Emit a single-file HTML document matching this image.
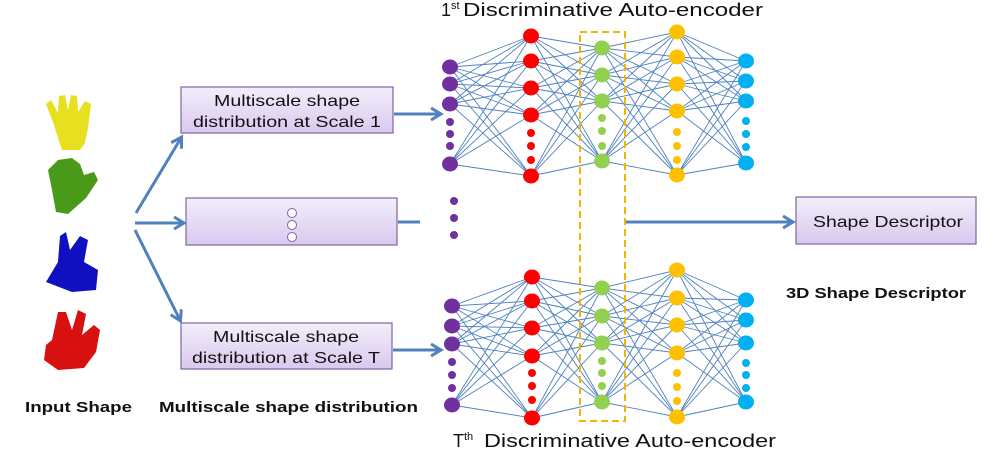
<!DOCTYPE html>
<html><head><meta charset="utf-8"><style>
html,body{margin:0;padding:0;background:#fff;}
svg text{font-family:"Liberation Sans",sans-serif;}
</style></head><body>
<svg width="1001" height="455" viewBox="0 0 1001 455" xmlns="http://www.w3.org/2000/svg">
<defs>
<linearGradient id="bg" x1="0" y1="0" x2="0" y2="1"><stop offset="0" stop-color="#f3eefa"/><stop offset="1" stop-color="#d9c9ee"/></linearGradient>
<marker id="ab" markerWidth="14" markerHeight="14" refX="10" refY="7" orient="auto" markerUnits="userSpaceOnUse"><path d="M1,1 L11,7 L1,13" fill="none" stroke="#4f81bd" stroke-width="3"/></marker>
</defs>
<g stroke="#4f81bd" stroke-width="0.9" fill="none">
<path d="M450 67L531 36M450 67L531 61M450 67L531 88M450 67L531 115M450 67L531 176M450 84L531 36M450 84L531 61M450 84L531 88M450 84L531 115M450 84L531 176M450 104L531 36M450 104L531 61M450 104L531 88M450 104L531 115M450 104L531 176M450 164L531 36M450 164L531 61M450 164L531 88M450 164L531 115M450 164L531 176"/>
<path d="M531 36L602 48M531 36L602 75M531 36L602 101M531 36L602 161M531 61L602 48M531 61L602 75M531 61L602 101M531 61L602 161M531 88L602 48M531 88L602 75M531 88L602 101M531 88L602 161M531 115L602 48M531 115L602 75M531 115L602 101M531 115L602 161M531 176L602 48M531 176L602 75M531 176L602 101M531 176L602 161"/>
<path d="M602 48L677 32M602 48L677 57M602 48L677 84M602 48L677 111M602 48L677 175M602 75L677 32M602 75L677 57M602 75L677 84M602 75L677 111M602 75L677 175M602 101L677 32M602 101L677 57M602 101L677 84M602 101L677 111M602 101L677 175M602 161L677 32M602 161L677 57M602 161L677 84M602 161L677 111M602 161L677 175"/>
<path d="M677 32L746 61M677 32L746 81M677 32L746 101M677 32L746 163M677 57L746 61M677 57L746 81M677 57L746 101M677 57L746 163M677 84L746 61M677 84L746 81M677 84L746 101M677 84L746 163M677 111L746 61M677 111L746 81M677 111L746 101M677 111L746 163M677 175L746 61M677 175L746 81M677 175L746 101M677 175L746 163"/>
<path d="M452 306L532 277M452 306L532 301M452 306L532 328M452 306L532 356M452 306L532 418M452 326L532 277M452 326L532 301M452 326L532 328M452 326L532 356M452 326L532 418M452 344L532 277M452 344L532 301M452 344L532 328M452 344L532 356M452 344L532 418M452 405L532 277M452 405L532 301M452 405L532 328M452 405L532 356M452 405L532 418"/>
<path d="M532 277L602 288M532 277L602 316M532 277L602 343M532 277L602 402M532 301L602 288M532 301L602 316M532 301L602 343M532 301L602 402M532 328L602 288M532 328L602 316M532 328L602 343M532 328L602 402M532 356L602 288M532 356L602 316M532 356L602 343M532 356L602 402M532 418L602 288M532 418L602 316M532 418L602 343M532 418L602 402"/>
<path d="M602 288L677 270M602 288L677 298M602 288L677 325M602 288L677 353M602 288L677 417M602 316L677 270M602 316L677 298M602 316L677 325M602 316L677 353M602 316L677 417M602 343L677 270M602 343L677 298M602 343L677 325M602 343L677 353M602 343L677 417M602 402L677 270M602 402L677 298M602 402L677 325M602 402L677 353M602 402L677 417"/>
<path d="M677 270L746 300M677 270L746 320M677 270L746 343M677 270L746 402M677 298L746 300M677 298L746 320M677 298L746 343M677 298L746 402M677 325L746 300M677 325L746 320M677 325L746 343M677 325L746 402M677 353L746 300M677 353L746 320M677 353L746 343M677 353L746 402M677 417L746 300M677 417L746 320M677 417L746 343M677 417L746 402"/>
</g>
<g fill="#7030a0"><ellipse cx="450" cy="67" rx="8" ry="7.5"/><ellipse cx="450" cy="84" rx="8" ry="7.5"/><ellipse cx="450" cy="104" rx="8" ry="7.5"/><circle cx="450" cy="122" r="4"/><circle cx="450" cy="134" r="4"/><circle cx="450" cy="146" r="4"/><ellipse cx="450" cy="164" rx="8" ry="7.5"/></g>
<g fill="#ff0000"><ellipse cx="531" cy="36" rx="8" ry="7.5"/><ellipse cx="531" cy="61" rx="8" ry="7.5"/><ellipse cx="531" cy="88" rx="8" ry="7.5"/><ellipse cx="531" cy="115" rx="8" ry="7.5"/><circle cx="531" cy="133" r="4"/><circle cx="531" cy="146" r="4"/><circle cx="531" cy="160" r="4"/><ellipse cx="531" cy="176" rx="8" ry="7.5"/></g>
<g fill="#92d050"><ellipse cx="602" cy="48" rx="8" ry="7.5"/><ellipse cx="602" cy="75" rx="8" ry="7.5"/><ellipse cx="602" cy="101" rx="8" ry="7.5"/><circle cx="602" cy="118" r="4"/><circle cx="602" cy="131" r="4"/><circle cx="602" cy="146" r="4"/><ellipse cx="602" cy="161" rx="8" ry="7.5"/></g>
<g fill="#ffc000"><ellipse cx="677" cy="32" rx="8" ry="7.5"/><ellipse cx="677" cy="57" rx="8" ry="7.5"/><ellipse cx="677" cy="84" rx="8" ry="7.5"/><ellipse cx="677" cy="111" rx="8" ry="7.5"/><circle cx="677" cy="132" r="4"/><circle cx="677" cy="146" r="4"/><circle cx="677" cy="160" r="4"/><ellipse cx="677" cy="175" rx="8" ry="7.5"/></g>
<g fill="#00b0f0"><ellipse cx="746" cy="61" rx="8" ry="7.5"/><ellipse cx="746" cy="81" rx="8" ry="7.5"/><ellipse cx="746" cy="101" rx="8" ry="7.5"/><circle cx="746" cy="121" r="4"/><circle cx="746" cy="134" r="4"/><circle cx="746" cy="147" r="4"/><ellipse cx="746" cy="163" rx="8" ry="7.5"/></g>
<g fill="#7030a0"><ellipse cx="452" cy="306" rx="8" ry="7.5"/><ellipse cx="452" cy="326" rx="8" ry="7.5"/><ellipse cx="452" cy="344" rx="8" ry="7.5"/><circle cx="452" cy="362" r="4"/><circle cx="452" cy="375" r="4"/><circle cx="452" cy="388" r="4"/><ellipse cx="452" cy="405" rx="8" ry="7.5"/></g>
<g fill="#ff0000"><ellipse cx="532" cy="277" rx="8" ry="7.5"/><ellipse cx="532" cy="301" rx="8" ry="7.5"/><ellipse cx="532" cy="328" rx="8" ry="7.5"/><ellipse cx="532" cy="356" rx="8" ry="7.5"/><circle cx="532" cy="373" r="4"/><circle cx="532" cy="386" r="4"/><circle cx="532" cy="400" r="4"/><ellipse cx="532" cy="418" rx="8" ry="7.5"/></g>
<g fill="#92d050"><ellipse cx="602" cy="288" rx="8" ry="7.5"/><ellipse cx="602" cy="316" rx="8" ry="7.5"/><ellipse cx="602" cy="343" rx="8" ry="7.5"/><circle cx="602" cy="361" r="4"/><circle cx="602" cy="373" r="4"/><circle cx="602" cy="386" r="4"/><ellipse cx="602" cy="402" rx="8" ry="7.5"/></g>
<g fill="#ffc000"><ellipse cx="677" cy="270" rx="8" ry="7.5"/><ellipse cx="677" cy="298" rx="8" ry="7.5"/><ellipse cx="677" cy="325" rx="8" ry="7.5"/><ellipse cx="677" cy="353" rx="8" ry="7.5"/><circle cx="677" cy="373" r="4"/><circle cx="677" cy="387" r="4"/><circle cx="677" cy="401" r="4"/><ellipse cx="677" cy="417" rx="8" ry="7.5"/></g>
<g fill="#00b0f0"><ellipse cx="746" cy="300" rx="8" ry="7.5"/><ellipse cx="746" cy="320" rx="8" ry="7.5"/><ellipse cx="746" cy="343" rx="8" ry="7.5"/><circle cx="746" cy="363" r="4"/><circle cx="746" cy="375" r="4"/><circle cx="746" cy="388" r="4"/><ellipse cx="746" cy="402" rx="8" ry="7.5"/></g>
<g>
<path d="M54,125 L46,104 L51,100 L58,113 L59,96 L65,95 L68,110 L71,95 L77,96 L78,112 L85,101 L91,104 L88,128 L85,143 L80,150 L62,150 L58,138 Z" fill="#e6e020"/>
<path d="M52,190 L48,170 L58,160 L72,158 L80,164 L84,175 L94,172 L98,180 L86,198 L68,214 L56,212 Z" fill="#4a9a1a"/>
<path d="M58,262 L60,236 L66,232 L70,250 L80,236 L88,240 L84,262 L98,270 L96,290 L72,292 L46,282 Z" fill="#1010c0"/>
<path d="M46,345 L52,340 L58,312 L66,312 L72,330 L78,310 L86,314 L82,335 L94,325 L100,330 L96,352 L84,368 L58,370 L44,360 Z" fill="#d81010"/>
</g>
<g stroke="#4f81bd" stroke-width="3" fill="none">
<line x1="136" y1="213" x2="181" y2="138" marker-end="url(#ab)"/>
<line x1="135" y1="223" x2="183" y2="223" marker-end="url(#ab)"/>
<line x1="135" y1="230" x2="180" y2="320" marker-end="url(#ab)"/>
<line x1="394" y1="114" x2="440" y2="114" marker-end="url(#ab)"/>
<line x1="398" y1="222" x2="420" y2="222"/>
<line x1="393" y1="350" x2="440" y2="350" marker-end="url(#ab)"/>
<line x1="626" y1="222" x2="792" y2="222" marker-end="url(#ab)"/>
</g>
<g stroke="#8064a2" stroke-width="1.2" fill="url(#bg)">
<rect x="181" y="87" width="212" height="46"/>
<rect x="186" y="198" width="211" height="47"/>
<rect x="181" y="323" width="211" height="46"/>
<rect x="796" y="197" width="180" height="47"/>
</g>
<g fill="#fff" stroke="#8064a2" stroke-width="1">
<circle cx="292" cy="213" r="4.5"/><circle cx="292" cy="225" r="4.5"/><circle cx="292" cy="237" r="4.5"/>
</g>
<g font-size="16" fill="#111">
<text x="214" y="106" textLength="146" lengthAdjust="spacingAndGlyphs">Multiscale shape</text>
<text x="193" y="127" textLength="188" lengthAdjust="spacingAndGlyphs">distribution at Scale 1</text>
<text x="213" y="342" textLength="146" lengthAdjust="spacingAndGlyphs">Multiscale shape</text>
<text x="192" y="363" textLength="188" lengthAdjust="spacingAndGlyphs">distribution at Scale T</text>
<text x="813" y="227" textLength="150" lengthAdjust="spacingAndGlyphs">Shape Descriptor</text>
</g>
<g font-size="15" font-weight="bold" fill="#111">
<text x="25" y="412" textLength="107" lengthAdjust="spacingAndGlyphs">Input Shape</text>
<text x="159" y="412" textLength="259" lengthAdjust="spacingAndGlyphs">Multiscale shape distribution</text>
<text x="786" y="298" textLength="180" lengthAdjust="spacingAndGlyphs">3D Shape Descriptor</text>
</g>
<g font-size="18" fill="#111">
<text x="441" y="16">1<tspan font-size="11" dy="-7">st</tspan><tspan dy="7" x="463" textLength="300" lengthAdjust="spacingAndGlyphs">Discriminative Auto-encoder</tspan></text>
<text x="453" y="447">T<tspan font-size="11" dy="-7">th</tspan><tspan dy="7" x="484" textLength="292" lengthAdjust="spacingAndGlyphs">Discriminative Auto-encoder</tspan></text>
</g>
<rect x="580" y="32" width="45" height="389" fill="none" stroke="#f5b400" stroke-width="2" stroke-dasharray="7,4"/>
<g fill="#7030a0"><circle cx="454" cy="201" r="4"/><circle cx="454" cy="218" r="4"/><circle cx="454" cy="235" r="4"/></g>
</svg>
</body></html>
